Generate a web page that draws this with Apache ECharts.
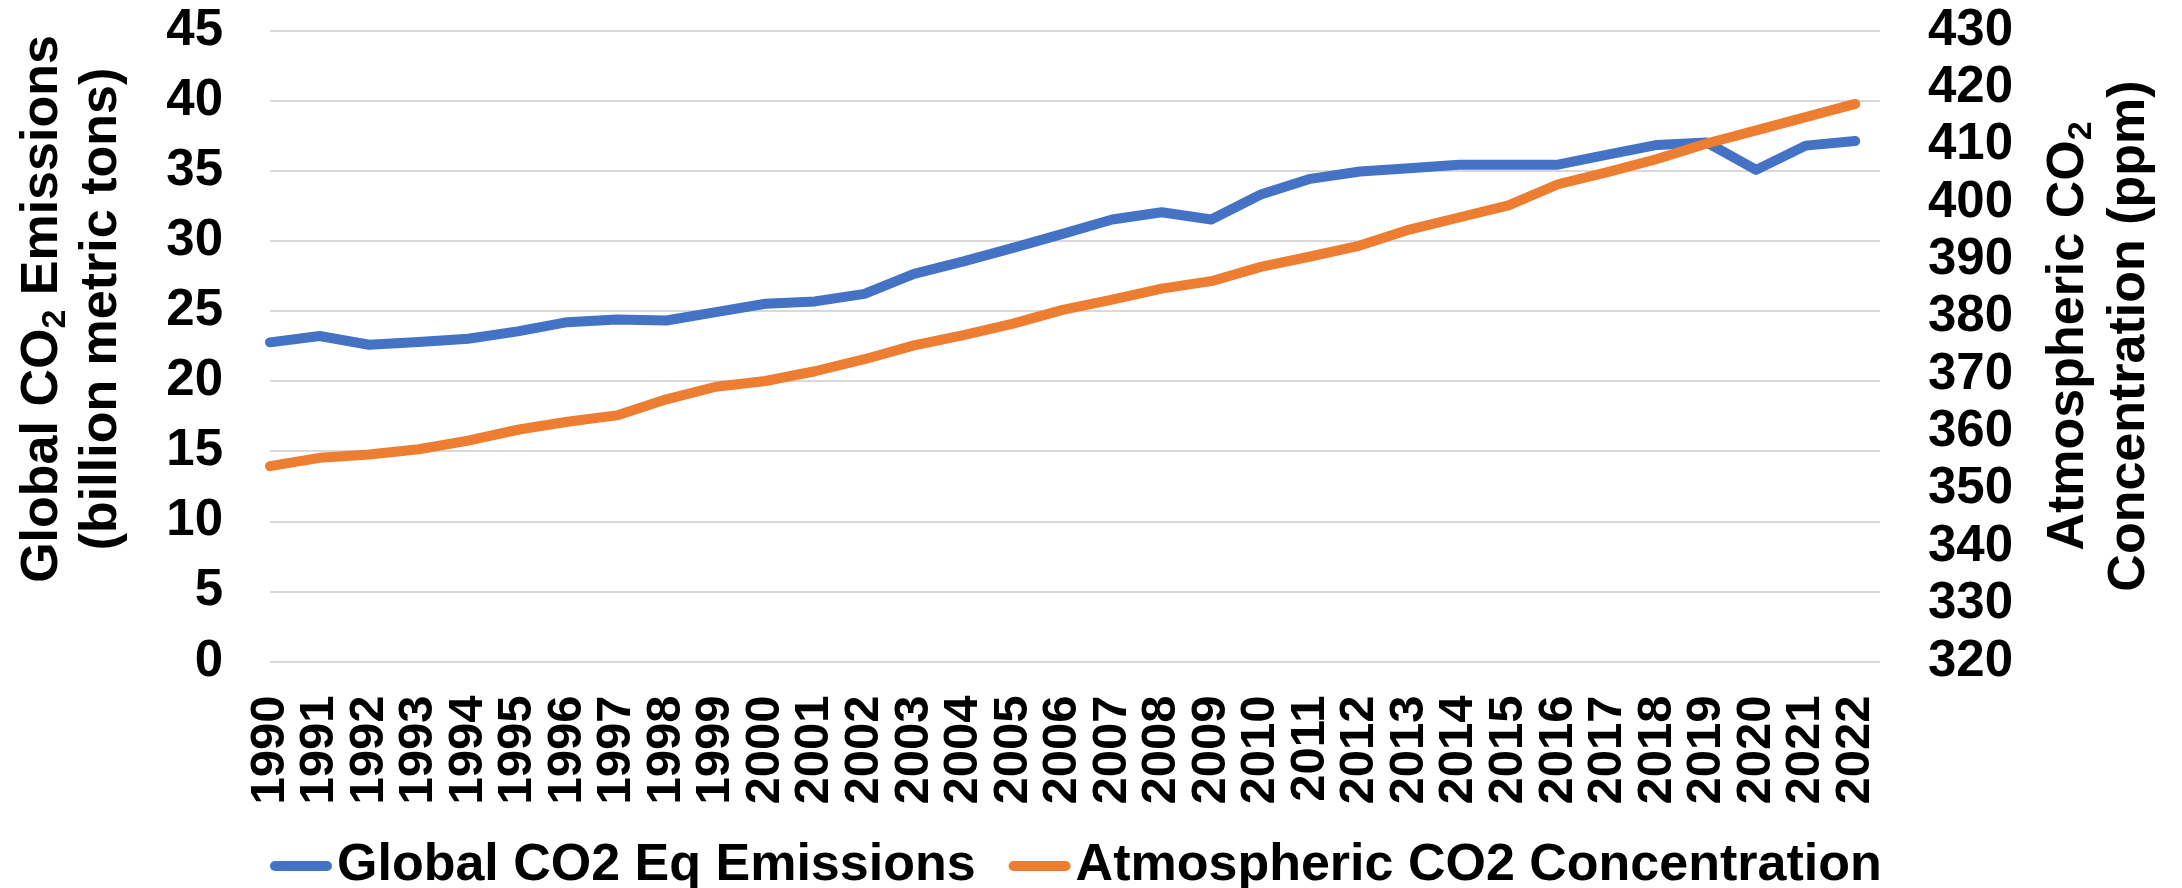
<!DOCTYPE html>
<html>
<head>
<meta charset="utf-8">
<title>CO2 emissions and concentration</title>
<script src="https://cdn.jsdelivr.net/npm/echarts@6/dist/echarts.min.js"></script>
<style>
  html, body { margin: 0; padding: 0; background: #fff; }
  #chart { width: 2182px; height: 888px; }
</style>
</head>
<body>
<div id="chart"></div>
<script>
const years = [
  1990, 1991, 1992, 1993, 1994, 1995, 1996, 1997, 1998, 1999,
  2000, 2001, 2002, 2003, 2004, 2005, 2006, 2007, 2008, 2009,
  2010, 2011, 2012, 2013, 2014, 2015, 2016, 2017, 2018, 2019,
  2020, 2021, 2022
]
// billion metric tons
const emissions = [
  22.76, 23.21, 22.59, 22.78, 23.02, 23.54, 24.2, 24.39, 24.32, 24.92,
  25.51, 25.68, 26.22, 27.65, 28.53, 29.5, 30.5, 31.52, 32.04, 31.52,
  33.3, 34.42, 34.94, 35.17, 35.43, 35.43, 35.43, 36.15, 36.84, 37.02,
  35.06, 36.79, 37.12
]
// ppm
const concentration = [
  354.05, 355.5, 356.1, 357.0, 358.5, 360.4, 361.8, 362.9, 365.7, 367.9,
  368.9, 370.6, 372.7, 375.1, 376.9, 378.9, 381.3, 383.1, 385.0, 386.3,
  388.8, 390.6, 392.5, 395.3, 397.4, 399.5, 403.2, 405.3, 407.6, 410.3,
  412.6, 414.9, 417.2
]
const seriesNames = ['Global CO2 Eq Emissions', 'Atmospheric CO2 Concentration']

const FONT = "'Liberation Sans', Arial, sans-serif"
const tickStyle = { fontFamily: FONT, fontWeight: 'bold', fontSize: 51, color: '#000' }

const titleRich = {
  a: { fontFamily: FONT, fontWeight: 'bold', fontSize: 52, lineHeight: 60, fill: '#000' },
  s: { fontFamily: FONT, fontWeight: 'bold', fontSize: 34, lineHeight: 20, verticalAlign: 'bottom', fill: '#000' }
}
const axisTitle = (text, x, y) => ({
  type: 'text',
  x: x,
  y: y,
  rotation: Math.PI / 2,
  style: { text: text, rich: titleRich, align: 'center', verticalAlign: 'middle' }
})

const chart = echarts.init(document.getElementById('chart'))

chart.setOption({
  backgroundColor: '#fff',
  animation: false,
  grid: { left: 270, right: 302, top: 30.5, bottom: 226.5 },
  legend: {
    left: 265,
    top: 834,
    itemWidth: 62,
    itemHeight: 10,
    itemGap: 33,
    icon: 'path://M5 0H57A5 5 0 0 1 57 10H5A5 5 0 0 1 5 0Z',
    textStyle: { fontFamily: FONT, fontWeight: 'bold', fontSize: 52, lineHeight: 54, color: '#000' },
    data: seriesNames
  },
  xAxis: {
    type: 'value',
    min: 1990,
    max: 2022.5,
    interval: 1,
    axisLine: { show: false },
    axisTick: { show: false },
    splitLine: { show: false },
    axisLabel: Object.assign({}, tickStyle, {
      fontSize: 49,
      lineHeight: 40,
      rotate: 90,
      margin: 34,
      hideOverlap: false,
      showMinLabel: true,
      showMaxLabel: true,
      customValues: years,
      formatter: v => String(v)
    })
  },
  yAxis: [
    {
      type: 'value',
      min: 0,
      max: 45,
      interval: 5,
      axisLine: { show: false },
      axisTick: { show: false },
      splitLine: { lineStyle: { color: '#d9d9d9', width: 2 } },
      axisLabel: Object.assign({}, tickStyle, { margin: 47 })
    },
    {
      type: 'value',
      position: 'right',
      min: 320,
      max: 430,
      interval: 10,
      axisLine: { show: false },
      axisTick: { show: false },
      splitLine: { show: false },
      axisLabel: Object.assign({}, tickStyle, { margin: 48 })
    }
  ],
  graphic: [
    axisTitle('{a|Global CO}{s|2}{a| Emissions}', 43, 309),
    axisTitle('{a|(billion metric tons)}', 102, 309),
    axisTitle('{a|Atmospheric CO}{s|2}', 2069, 336),
    axisTitle('{a|Concentration (ppm)}', 2130, 336)
  ],
  series: [
    {
      name: seriesNames[0],
      type: 'line',
      yAxisIndex: 0,
      symbol: 'none',
      color: '#4472C4',
      lineStyle: { width: 10, cap: 'round', join: 'round' },
      data: years.map((y, i) => [y, emissions[i]])
    },
    {
      name: seriesNames[1],
      type: 'line',
      yAxisIndex: 1,
      symbol: 'none',
      color: '#ED7D31',
      lineStyle: { width: 10, cap: 'round', join: 'round' },
      data: years.map((y, i) => [y, concentration[i]])
    }
  ]
})
</script>
</body>
</html>
